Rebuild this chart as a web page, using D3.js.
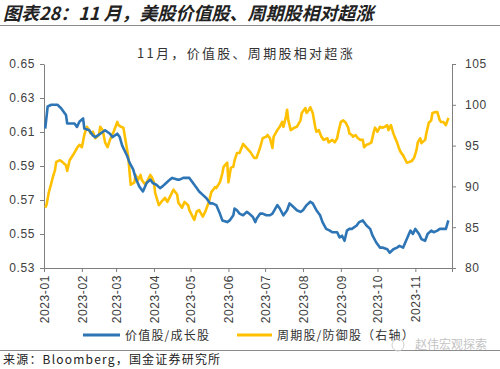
<!DOCTYPE html>
<html>
<head>
<meta charset="utf-8">
<script src="https://cdn.jsdelivr.net/npm/d3@7"></script>
<style>
  body { margin: 0; background: #fff; }
  svg { display: block; font-family: "Noto Sans", "Noto Sans CJK SC", sans-serif; }
  .axis path, .axis line { stroke: #7f7f7f; }
  .axis text { fill: #404040; font-size: 12px; letter-spacing: 0.6px; }
</style>
</head>
<body>
<div id="chart"></div>
<script>
// 价值股/成长股（左轴）
const valueDates = [
  "2023-01-02","2023-01-04","2023-01-07","2023-01-12","2023-01-15","2023-01-19","2023-01-20","2023-01-24","2023-01-26","2023-01-28","2023-01-30",
  "2023-02-02","2023-02-03","2023-02-07","2023-02-10","2023-02-12","2023-02-16","2023-02-20","2023-02-24","2023-02-26",
  "2023-03-02","2023-03-04","2023-03-06","2023-03-10","2023-03-12","2023-03-15","2023-03-17","2023-03-20","2023-03-23","2023-03-26","2023-03-29","2023-03-31",
  "2023-04-03","2023-04-06","2023-04-08","2023-04-11","2023-04-14","2023-04-16","2023-04-20","2023-04-22","2023-04-25","2023-04-28","2023-04-30",
  "2023-05-03","2023-05-06","2023-05-08","2023-05-11","2023-05-14","2023-05-17","2023-05-19","2023-05-22","2023-05-25","2023-05-27","2023-05-31",
  "2023-06-02","2023-06-05","2023-06-06","2023-06-08","2023-06-10","2023-06-13","2023-06-16","2023-06-18","2023-06-21","2023-06-23","2023-06-24","2023-06-27","2023-06-29",
  "2023-07-02","2023-07-05","2023-07-07","2023-07-11","2023-07-13","2023-07-16","2023-07-19","2023-07-21","2023-07-24","2023-07-27","2023-07-30",
  "2023-08-01","2023-08-04","2023-08-07","2023-08-09","2023-08-12","2023-08-15","2023-08-17","2023-08-20","2023-08-23","2023-08-25","2023-08-29","2023-08-31",
  "2023-09-02","2023-09-04","2023-09-06","2023-09-08","2023-09-10","2023-09-14","2023-09-16","2023-09-19","2023-09-22","2023-09-25","2023-09-27","2023-09-30",
  "2023-10-03","2023-10-05","2023-10-09","2023-10-11","2023-10-14","2023-10-17","2023-10-19","2023-10-22","2023-10-25","2023-10-28","2023-10-30",
  "2023-11-01","2023-11-04","2023-11-06","2023-11-09","2023-11-11","2023-11-14","2023-11-16","2023-11-19","2023-11-21","2023-11-24","2023-11-26","2023-11-28"
];
const valueRatio = [
  0.612,0.625,0.626,0.626,0.624,0.620,0.615,0.615,0.615,0.613,0.616,
  0.618,0.612,0.611,0.608,0.607,0.609,0.611,0.609,0.607,
  0.609,0.607,0.602,0.596,0.592,0.588,0.583,0.578,0.575,0.580,0.582,0.580,
  0.579,0.577,0.578,0.580,0.582,0.583,0.582,0.582,0.583,0.583,0.583,
  0.580,0.577,0.575,0.573,0.571,0.568,0.568,0.567,0.562,0.558,0.557,
  0.558,0.561,0.565,0.564,0.562,0.561,0.563,0.562,0.560,0.557,0.559,0.562,0.562,
  0.561,0.561,0.562,0.567,0.565,0.561,0.564,0.568,0.566,0.564,0.563,
  0.564,0.567,0.569,0.568,0.564,0.561,0.557,0.553,0.552,0.551,0.551,0.548,
  0.549,0.546,0.552,0.553,0.553,0.555,0.557,0.558,0.555,0.553,0.549,0.545,
  0.542,0.542,0.541,0.539,0.541,0.542,0.543,0.542,0.547,0.552,0.550,
  0.553,0.550,0.547,0.546,0.550,0.552,0.551,0.552,0.553,0.553,0.553,0.558
];

// 周期股/防御股（右轴）
const cycDates = [
  "2023-01-02","2023-01-03","2023-01-05","2023-01-07","2023-01-08","2023-01-10","2023-01-11","2023-01-14","2023-01-16","2023-01-19","2023-01-20","2023-01-22","2023-01-25","2023-01-28","2023-01-30",
  "2023-02-01","2023-02-03","2023-02-05","2023-02-07","2023-02-08","2023-02-10","2023-02-12","2023-02-15","2023-02-16","2023-02-18","2023-02-20","2023-02-22","2023-02-24","2023-02-27",
  "2023-03-02","2023-03-03","2023-03-05","2023-03-07","2023-03-09","2023-03-11","2023-03-12","2023-03-13","2023-03-16","2023-03-17","2023-03-19","2023-03-21","2023-03-22","2023-03-25","2023-03-26","2023-03-29","2023-03-30",
  "2023-04-01","2023-04-02","2023-04-05","2023-04-07","2023-04-10","2023-04-12","2023-04-15","2023-04-17","2023-04-20","2023-04-21","2023-04-24","2023-04-26","2023-04-29","2023-04-30",
  "2023-05-02","2023-05-04","2023-05-06","2023-05-08","2023-05-11","2023-05-13","2023-05-16","2023-05-18","2023-05-21","2023-05-22","2023-05-25","2023-05-27","2023-05-28","2023-05-31",
  "2023-06-01","2023-06-03","2023-06-05","2023-06-06","2023-06-08","2023-06-10","2023-06-13","2023-06-16","2023-06-19","2023-06-22","2023-06-24","2023-06-27","2023-06-29",
  "2023-07-02","2023-07-03","2023-07-05","2023-07-07","2023-07-08","2023-07-11","2023-07-13","2023-07-15","2023-07-16","2023-07-18","2023-07-19","2023-07-20","2023-07-22","2023-07-25","2023-07-27","2023-07-30","2023-07-31",
  "2023-08-03","2023-08-04","2023-08-06","2023-08-07","2023-08-09","2023-08-11","2023-08-12","2023-08-14","2023-08-16","2023-08-18","2023-08-21","2023-08-22","2023-08-25","2023-08-27","2023-08-29","2023-08-30",
  "2023-09-01","2023-09-03","2023-09-05","2023-09-07","2023-09-08","2023-09-10","2023-09-11","2023-09-13","2023-09-15","2023-09-17","2023-09-19","2023-09-20","2023-09-22","2023-09-24","2023-09-26","2023-09-28","2023-09-29",
  "2023-10-01","2023-10-03","2023-10-05","2023-10-07","2023-10-09","2023-10-10","2023-10-12","2023-10-14","2023-10-15","2023-10-17","2023-10-19","2023-10-20","2023-10-22","2023-10-24","2023-10-25","2023-10-27","2023-10-29","2023-10-31",
  "2023-11-02","2023-11-03","2023-11-05","2023-11-06","2023-11-09","2023-11-10","2023-11-12","2023-11-14","2023-11-15","2023-11-17","2023-11-19","2023-11-21","2023-11-22","2023-11-24","2023-11-26","2023-11-28"
];
const cycRatio = [
  87.4,87.7,89.3,90.4,91.0,92.0,93.0,93.2,93.0,92.6,91.9,93.2,93.9,94.7,95.1,
  94.8,96.3,97.3,96.9,96.5,96.7,95.9,96.3,97.3,96.9,95.4,94.8,95.7,96.7,
  97.9,97.5,97.3,97.2,95.4,93.6,91.8,90.2,90.5,91.4,90.8,91.4,90.8,90.2,90.5,91.4,91.2,
  90.5,89.2,87.7,88.1,88.6,88.1,89.0,89.6,89.0,88.0,87.4,88.1,87.7,87.1,
  86.5,85.9,86.9,87.1,86.3,86.9,88.1,89.3,89.9,89.8,90.5,91.6,92.4,92.9,
  90.5,92.3,92.4,93.2,94.1,94.1,95.2,94.7,94.2,93.5,93.5,94.8,95.9,
  96.1,96.3,95.9,94.7,96.1,96.9,97.3,97.9,97.3,98.5,99.4,98.1,96.9,97.2,97.3,98.1,99.0,
  99.6,99.0,99.4,99.7,99.0,97.3,96.7,96.9,96.1,95.7,95.9,95.4,95.7,95.4,95.9,96.7,
  97.9,98.1,97.8,97.2,96.5,96.3,96.1,96.3,95.9,95.7,95.7,94.8,95.1,95.2,95.4,96.7,97.2,
  96.7,97.3,97.2,97.3,97.5,96.9,97.5,96.5,96.1,95.4,94.5,94.2,93.8,93.2,92.9,93.0,93.1,93.5,
  94.5,95.4,95.9,95.3,95.7,96.5,97.8,98.1,99.0,99.1,99.1,98.1,97.9,97.9,97.5,98.4
];

// 刻度
const leftTicks = [0.53, 0.55, 0.57, 0.59, 0.61, 0.63, 0.65];
const rightTicks = [80, 85, 90, 95, 100, 105];
const monthTicks = ["2023-01-01","2023-02-01","2023-03-01","2023-04-01","2023-05-01","2023-06-01",
                    "2023-07-01","2023-08-01","2023-09-01","2023-10-01","2023-11-01","2023-12-01"];

const seriesNames = ["价值股/成长股", "周期股/防御股（右轴）"];
const colors = ["#2E75B6", "#FFC000"];

const parse = d3.timeParse("%Y-%m-%d");
const valueData = valueDates.map((d, i) => ({ date: parse(d), v: valueRatio[i] }));
const cycData = cycDates.map((d, i) => ({ date: parse(d), v: cycRatio[i] }));

const W = 500, H = 369;
const svg = d3.select("#chart").append("svg").attr("width", W).attr("height", H);

// 标题
svg.append("text")
  .attr("x", 3).attr("y", 20)
  .style("font-family", "'Noto Sans CJK SC'")
  .style("font-size", "18px").style("font-weight", "bold").style("font-style", "italic")
  .attr("fill", "#222")
  .text("图表28：11 月，美股价值股、周期股相对超涨");

svg.append("line").attr("x1", 0).attr("x2", W).attr("y1", 25.5).attr("y2", 25.5)
  .attr("stroke", "#8c8c8c").attr("stroke-width", 1);

svg.append("text")
  .attr("x", 246).attr("y", 58).attr("text-anchor", "middle")
  .style("font-family", "'Noto Sans CJK SC'")
  .style("font-size", "13px").style("letter-spacing", "2.3px")
  .attr("fill", "#333")
  .text("11月，价值股、周期股相对超涨");

// 比例尺
const x = d3.scaleTime().domain([parse(monthTicks[0]), parse(monthTicks[11])]).range([44, 452]);
const yL = d3.scaleLinear().domain([0.53, 0.65]).range([268, 64]);
const yR = d3.scaleLinear().domain([80, 105]).range([268, 64]);

// 坐标轴
svg.append("g").attr("class", "axis")
  .attr("transform", "translate(44,0)")
  .call(d3.axisLeft(yL).tickValues(leftTicks).tickFormat(d3.format(".2f")).tickSizeInner(4).tickSizeOuter(0).tickPadding(5));

svg.append("g").attr("class", "axis")
  .attr("transform", "translate(452,0)")
  .call(d3.axisRight(yR).tickValues(rightTicks).tickSizeInner(4).tickSizeOuter(0).tickPadding(9));

const xAxis = svg.append("g").attr("class", "axis")
  .attr("transform", "translate(0,268)")
  .call(d3.axisBottom(x).tickValues(monthTicks.map(parse))
    .tickFormat(d => d.getMonth() === 11 ? "" : d3.timeFormat("%Y-%m")(d))
    .tickSizeInner(4).tickSizeOuter(0));
xAxis.selectAll("text")
  .attr("transform", "rotate(-90)")
  .attr("text-anchor", "end")
  .attr("x", -7).attr("y", 0).attr("dy", "0.35em");

// 折线
const lineL = d3.line().x(d => x(d.date)).y(d => yL(d.v));
const lineR = d3.line().x(d => x(d.date)).y(d => yR(d.v));

svg.append("path").datum(cycData)
  .attr("fill", "none").attr("stroke", colors[1]).attr("stroke-width", 2.6)
  .attr("stroke-linejoin", "round").attr("d", lineR);

svg.append("path").datum(valueData)
  .attr("fill", "none").attr("stroke", colors[0]).attr("stroke-width", 2.6)
  .attr("stroke-linejoin", "round").attr("d", lineL);

// 图例
const legend = [
  { x1: 83, x2: 120, tx: 125 },
  { x1: 237, x2: 272, tx: 277 }
];
legend.forEach((l, i) => {
  svg.append("line").attr("x1", l.x1).attr("x2", l.x2).attr("y1", 335).attr("y2", 335)
    .attr("stroke", colors[i]).attr("stroke-width", 3);
  svg.append("text").attr("x", l.tx).attr("y", 339.5)
    .style("font-family", "'Noto Sans CJK SC'")
    .style("font-size", "12px").style("letter-spacing", "1.2px")
    .attr("fill", "#333").text(seriesNames[i]);
});

// 来源
svg.append("line").attr("x1", 0).attr("x2", W).attr("y1", 350.5).attr("y2", 350.5)
  .attr("stroke", "#8c8c8c").attr("stroke-width", 1);

svg.append("text").attr("x", 415).attr("y", 349)
  .style("font-family", "'Noto Sans CJK SC'")
  .style("font-size", "12px").attr("fill", "#c4c4c4")
  .text("赵伟宏观探索");
svg.append("circle").attr("cx", 398).attr("cy", 345).attr("r", 6)
  .attr("fill", "none").attr("stroke", "#cfcfcf").attr("stroke-width", 1);

svg.append("text").attr("x", 3).attr("y", 364)
  .style("font-family", "'Noto Sans CJK SC'")
  .style("font-size", "12px").style("letter-spacing", "1.2px")
  .attr("fill", "#222")
  .text("来源：Bloomberg，国金证券研究所");
</script>
</body>
</html>
